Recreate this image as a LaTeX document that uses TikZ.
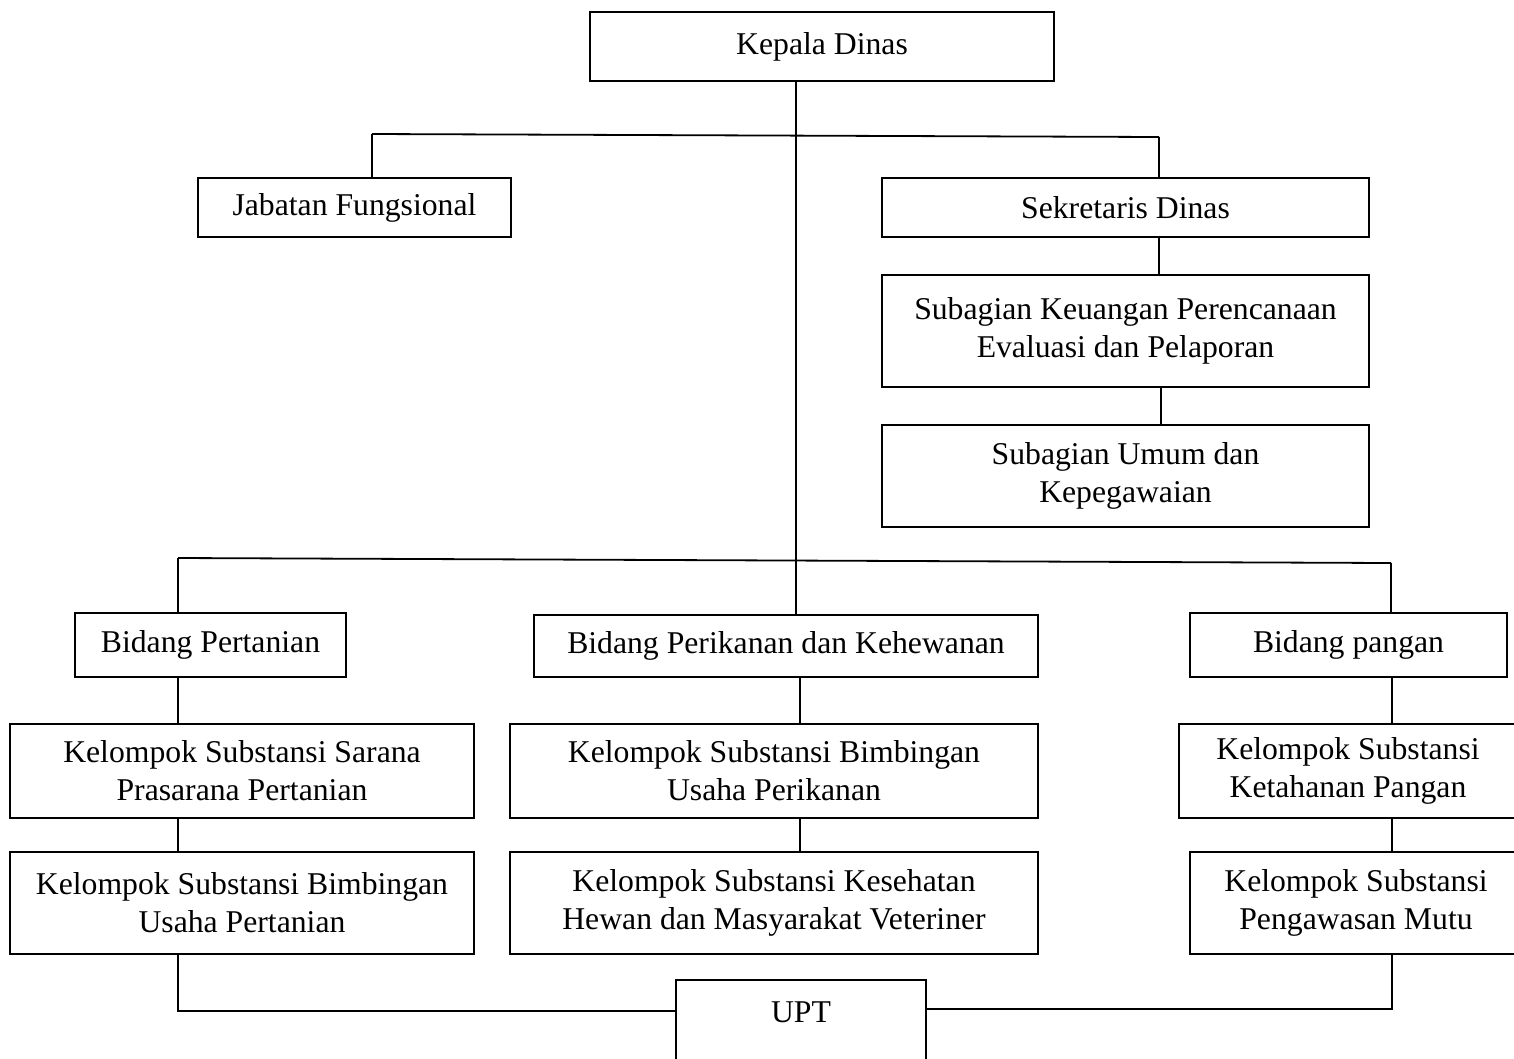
\documentclass[tikz,border=0pt]{standalone}
\usepackage{fontspec}
\setmainfont{Liberation Serif}
\begin{document}
\begin{tikzpicture}[x=1pt,y=-1pt,
  line width=1.8pt,
  orgbox/.style={draw, rectangle, align=center, inner sep=0pt,
    font=\fontsize{31.7}{38}\selectfont},
  link/.style={draw, line width=1.8pt}]
\useasboundingbox (0,0) rectangle (1514,1058);
\clip (0,0) rectangle (1514,1058);

% box given by its corners: name, x1, y1, x2, y2, text
\newcommand\orgunit[6]{%
  \node[orgbox, minimum width={#4-#2}, minimum height={#5-#3}]
    (#1) at ({(#2+#4)/2},{(#3+#5)/2}) {#6};}

% top level
\orgunit{kd}{590}{12}{1054}{81}{Kepala Dinas}
\orgunit{jf}{198}{178}{511}{237}{Jabatan Fungsional}
\orgunit{sd}{882}{178}{1369}{237}{Sekretaris Dinas}
\orgunit{sk}{882}{275}{1369}{387}{Subagian Keuangan Perencanaan\\Evaluasi dan Pelaporan}
\orgunit{su}{882}{425}{1369}{527}{Subagian Umum dan\\Kepegawaian}

% fields
\orgunit{bp}{75}{613}{346}{677}{Bidang Pertanian}
\orgunit{bpk}{534}{615}{1038}{677}{Bidang Perikanan dan Kehewanan}
\orgunit{bpg}{1190}{613}{1507}{677}{Bidang pangan}

% substance groups
\orgunit{ks1}{10}{724}{474}{818}{Kelompok Substansi Sarana\\Prasarana Pertanian}
\orgunit{ks2}{10}{852}{474}{954}{Kelompok Substansi Bimbingan\\Usaha Pertanian}
\orgunit{km1}{510}{724}{1038}{818}{Kelompok Substansi Bimbingan\\Usaha Perikanan}
\orgunit{km2}{510}{852}{1038}{954}{Kelompok Substansi Kesehatan\\Hewan dan Masyarakat Veteriner}
\orgunit{kp1}{1179}{724}{1517}{818}{Kelompok Substansi\\Ketahanan Pangan}
\orgunit{kp2}{1190}{852}{1522}{954}{Kelompok Substansi\\Pengawasan Mutu}

% technical unit, running off the bottom edge
\node[orgbox, anchor=north, minimum width=250, inner ysep=0pt,
      text height=43pt, text depth=100pt] (upt) at (801,979) {UPT};

% branch points
\coordinate (t1L) at (372,134);
\coordinate (t1R) at (1159,137);
\coordinate (spine) at (796,400);
\coordinate (t2L) at (178,558);
\coordinate (t2R) at (1391,563);
\coordinate (colM) at (800,700);
\coordinate (busL) at (178,1011);
\coordinate (busR) at (1392,1009);

% upper branch
\draw[link] (kd.south -| spine) -- (bpk.north -| spine);
\draw[link] (t1L) -- (t1R);
\draw[link] (t1L) -- (jf.north -| t1L);
\draw[link] (t1R) -- (sd.north -| t1R);
\draw[link] (sd.south -| t1R) -- (sk.north -| t1R);
\draw[link] ([xshift=2pt]sk.south -| t1R) -- ([xshift=2pt]su.north -| t1R);

% lower branch
\draw[link] (t2L) -- (t2R);
\draw[link] (t2L) -- (bp.north -| t2L);
\draw[link] (t2R) -- (bpg.north -| t2R);

% columns
\draw[link] (bp.south -| t2L) -- (ks1.north -| t2L);
\draw[link] (ks1.south -| t2L) -- (ks2.north -| t2L);
\draw[link] (bpk.south -| colM) -- (km1.north -| colM);
\draw[link] (km1.south -| colM) -- (km2.north -| colM);
\draw[link] (bpg.south -| busR) -- (kp1.north -| busR);
\draw[link] (kp1.south -| busR) -- (kp2.north -| busR);

% links to the technical unit
\draw[link] (ks2.south -| busL) -- (busL) -- (upt.west |- busL);
\draw[link] (kp2.south -| busR) -- (busR) -- (upt.east |- busR);
\end{tikzpicture}
\end{document}
